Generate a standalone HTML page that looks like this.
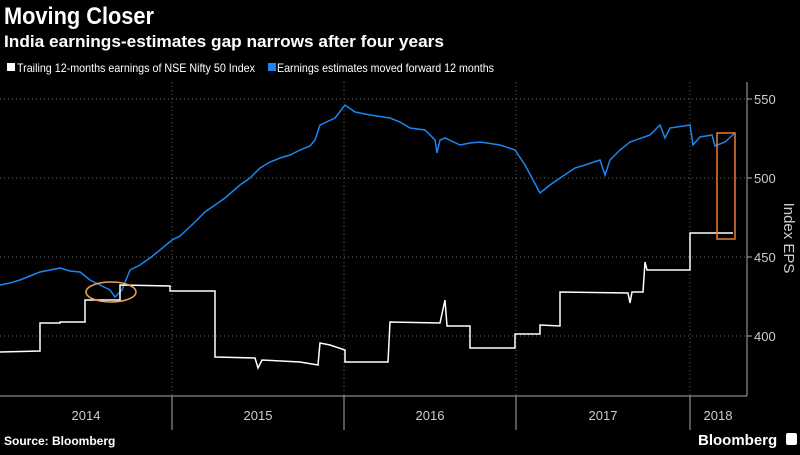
<!DOCTYPE html><html><head><style>body{margin:0;background:#000;width:800px;height:450px;overflow:hidden;font-family:"Liberation Sans",sans-serif}</style></head><body>
<svg width="800" height="450" xmlns="http://www.w3.org/2000/svg" font-family="Liberation Sans, sans-serif">
<rect width="800" height="450" fill="#000"/>
<text x="4" y="24" fill="#fff" font-size="24" font-weight="bold" textLength="150" lengthAdjust="spacingAndGlyphs">Moving Closer</text>
<text x="4" y="47" fill="#fff" font-size="17" font-weight="bold" textLength="440" lengthAdjust="spacingAndGlyphs">India earnings-estimates gap narrows after four years</text>
<rect x="7" y="63" width="8" height="8" fill="#fff"/><text x="17" y="72" fill="#fff" font-size="12" textLength="238" lengthAdjust="spacingAndGlyphs">Trailing 12-months earnings of NSE Nifty 50 Index</text>
<rect x="268" y="63" width="8" height="8" fill="#1a87f0"/><text x="277" y="72" fill="#fff" font-size="12" textLength="217" lengthAdjust="spacingAndGlyphs">Earnings estimates moved forward 12 months</text>
<g stroke="#666" stroke-dasharray="1,3" stroke-width="1">
<line x1="0" y1="99" x2="747" y2="99"/><line x1="0" y1="178" x2="747" y2="178"/><line x1="0" y1="257" x2="747" y2="257"/><line x1="0" y1="336" x2="747" y2="336"/>
<line x1="172" y1="82" x2="172" y2="396"/><line x1="344" y1="82" x2="344" y2="396"/><line x1="516" y1="82" x2="516" y2="396"/><line x1="690" y1="82" x2="690" y2="396"/>
</g>
<g stroke="#aaa" stroke-width="1">
<line x1="747" y1="82" x2="747" y2="396"/><line x1="0" y1="396" x2="747" y2="396"/>
<line x1="747" y1="99" x2="752" y2="99"/><line x1="747" y1="178" x2="752" y2="178"/><line x1="747" y1="257" x2="752" y2="257"/><line x1="747" y1="336" x2="752" y2="336"/>
<line x1="172" y1="396" x2="172" y2="430"/><line x1="344" y1="396" x2="344" y2="430"/><line x1="516" y1="396" x2="516" y2="430"/><line x1="690" y1="396" x2="690" y2="430"/>
</g>
<g fill="#ccc" font-size="13"><text x="754" y="104">550</text><text x="754" y="183">500</text><text x="754" y="262">450</text><text x="754" y="341">400</text>
<text x="86" y="420" text-anchor="middle">2014</text><text x="258" y="420" text-anchor="middle">2015</text><text x="430" y="420" text-anchor="middle">2016</text><text x="603" y="420" text-anchor="middle">2017</text><text x="718" y="420" text-anchor="middle">2018</text></g>
<text transform="translate(784,238) rotate(90)" fill="#ccc" font-size="15" text-anchor="middle">Index EPS</text>
<polyline fill="none" stroke="#1a87f0" stroke-width="1.5" points="0,285 10,283 20,280 30,276 40,272 50,270 60,268 70,271 80,272 90,280 100,285 110,290 115,297 122,290 130,270 140,265 150,258 160,250 172,240 180,236 195,222 205,212 215,205 225,198 240,185 250,178 260,168 270,162 280,158 290,155 300,150 310,146 315,140 320,125 335,118 345,105 355,112 370,115 390,118 400,122 410,128 425,130 430,135 435,140 437,153 440,140 445,138 460,145 470,143 480,142 500,145 515,150 525,165 532,178 540,193 550,185 560,178 575,168 585,165 600,160 605,175 610,160 620,150 630,142 650,135 655,130 660,125 665,138 670,128 690,125 693,145 700,137 712,135 715,146 725,142 735,133"/>
<polyline fill="none" stroke="#fff" stroke-width="1.5" points="0,352 40,351 40,323 60,323 60,322 85,322 85,300 120,300 120,285 170,286 170,291 215,291 215,357 255,358 258,368 262,360 300,362 318,365 320,343 330,345 345,350 345,362 388,362 390,322 440,323 445,300 447,326 470,326 470,348 515,348 515,334 540,334 540,325 560,326 560,292 628,293 630,303 632,292 643,292 645,262 647,270 690,270 690,233 733,233"/>
<rect x="717" y="133" width="18" height="106" fill="none" stroke="#f07a30" stroke-width="1.5"/>
<ellipse cx="111" cy="292" rx="25" ry="10" fill="none" stroke="#f0a050" stroke-width="1.5"/>
<text x="4" y="445" fill="#fff" font-size="12" font-weight="bold">Source: Bloomberg</text>
<text x="698" y="445" fill="#fff" font-size="15" font-weight="bold">Bloomberg</text>
<rect x="786" y="433" width="11" height="12" rx="2" fill="#fff"/>
</svg></body></html>
